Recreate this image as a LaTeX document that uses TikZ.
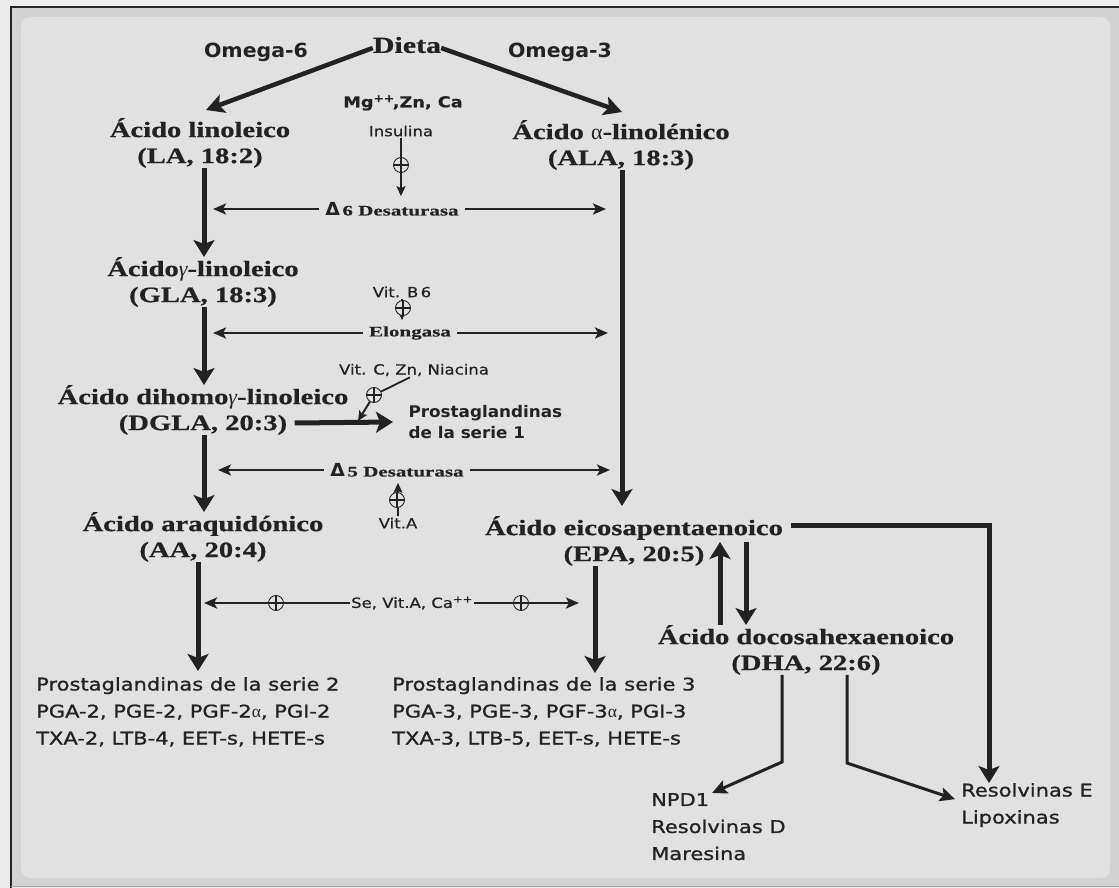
\documentclass[tikz,border=0pt]{standalone}
\usepackage{fontspec}
\setmainfont{Liberation Serif}
\setsansfont{DejaVu Sans}
\newfontfamily\acidfont[FakeStretch=1.3,FakeBold=0.7]{Liberation Serif}
\newfontfamily\enzfont[FakeStretch=1.45,FakeBold=0.5]{Liberation Serif}
\newfontfamily\labfont[FakeStretch=1.18,FakeBold=0.6]{DejaVu Sans}
\newfontfamily\prodfont[FakeStretch=1.2,FakeBold=1.1]{DejaVu Sans}
\newfontfamily\headfont[FakeStretch=1.05]{DejaVu Sans}
\usetikzlibrary{arrows.meta}
\definecolor{ink}{HTML}{222222}
\definecolor{outbg}{HTML}{EBEBEB}
\definecolor{band}{HTML}{D3D3D3}
\definecolor{panel}{HTML}{E1E1E1}

\begin{document}
\begin{tikzpicture}[x=1pt,y=-1pt,
		acid/.style={font=\acidfont\bfseries\fontsize{22}{26}\selectfont, align=center, text=ink, inner sep=0pt},
		enzyme/.style={font=\enzfont\bfseries\fontsize{14.5}{16}\selectfont, text=ink, inner sep=6pt},
		cofactor/.style={font=\labfont\fontsize{14}{15}\selectfont, text=ink, inner sep=1pt},
		omega/.style={font=\headfont\bfseries\fontsize{19.5}{21}\selectfont, text=ink},
		product/.style={font=\prodfont\fontsize{17.5}{27}\selectfont, align=left, text=ink, inner sep=0pt},
		headarrow/.style={draw=ink, line width=4.5pt, -{Stealth[length=18pt,width=19pt,inset=4pt]}},
		mainarrow/.style={draw=ink, line width=5pt, -{Stealth[length=17pt,width=21pt,inset=4pt]}},
		enzarrow/.style={draw=ink, line width=2.6pt, -{Stealth[length=13pt,width=11pt,inset=3pt]}},
		cofarrow/.style={draw=ink, line width=2pt, -{Stealth[length=10pt,width=9pt,inset=2pt]}},
		branch/.style={draw=ink, line width=3pt, -{Stealth[length=15pt,width=14pt,inset=3pt]}},
		plus/.style={circle, draw=ink, line width=0.9pt, fill=panel, minimum size=15pt, inner sep=0pt,
				path picture={\draw[ink, line width=2.8pt]
						(path picture bounding box.north) -- (path picture bounding box.south)
						(path picture bounding box.west) -- (path picture bounding box.east);}}
	]
	\useasboundingbox (0,0) rectangle (1119,888);

	% frame
	\fill[outbg] (0,0) rectangle (1119,888);
	\fill[band] (11,7) rectangle (1119,886);
	\fill[panel, rounded corners=9pt] (21,17) rectangle (1110,878);
	\draw[black!85, line width=1.3pt] (1119,7) -- (11,7) -- (11,888);
	\draw[black!35, line width=1pt] (11,886) -- (1119,886);

	% columns
	\coordinate (colL) at (204,0);
	\coordinate (colR) at (622,0);
	\coordinate (colAA) at (198,0);
	\coordinate (colE) at (595,0);
	\coordinate (colU) at (720,0);
	\coordinate (colD) at (746,0);

	% acids
	\node[acid, font=\acidfont\bfseries\fontsize{23}{26}\selectfont] (dieta) at (407,45) {Dieta};
	\node[omega] (om6) at (256,52) {Omega-6};
	\node[omega] (om3) at (560,52) {Omega-3};
	\node[acid] (la) at (200,143) {Ácido linoleico\\(LA, 18:2)};
	\node[acid] (ala) at (621,145) {Ácido {\normalfont α}-linolénico\\(ALA, 18:3)};
	\node[acid] (gla) at (203,282) {Ácido{\normalfont\itshape γ}-linoleico\\(GLA, 18:3)};
	\node[acid] (dgla) at (203,410) {Ácido dihomo{\normalfont\itshape γ}-linoleico\\(DGLA, 20:3)};
	\node[acid] (aa) at (203,537) {Ácido araquidónico\\(AA, 20:4)};
	\node[acid] (epa) at (634,541) {Ácido eicosapentaenoico\\(EPA, 20:5)};
	\node[acid] (dha) at (806,650) {Ácido docosahexaenoico\\(DHA, 22:6)};

	% enzymes and cofactors
	\node[cofactor, font=\labfont\bfseries\fontsize{15}{17}\selectfont] (mg) at (403,103) {Mg\textsuperscript{++}\hspace{-2pt},Zn, Ca};
	\node[cofactor] (ins) at (401,131) {Insulina};
	\node[enzyme] (d6) at (392,209) {{\headfont\bfseries\fontsize{18}{18}\selectfont Δ}\,6 Desaturasa};
	\node[cofactor] (b6) at (402,292) {Vit. B\,6};
	\node[enzyme] (elo) at (410,333) {Elongasa};
	\node[cofactor] (vitc) at (414,370) {Vit. C, Zn, Niacina};
	\node[enzyme] (d5) at (397,470) {{\headfont\bfseries\fontsize{18}{18}\selectfont Δ}\,5 Desaturasa};
	\node[cofactor] (vita) at (398,523) {Vit.A};
	\node[cofactor] (se) at (412,603) {Se, Vit.A, Ca\textsuperscript{++}};

	% products
	\node[omega, font=\headfont\bfseries\fontsize{16}{21}\selectfont, align=left, anchor=west] (pg1) at (405,422) {Prostaglandinas\\de la serie 1};
	\node[product, anchor=north west] (pg2) at (36,677) {Prostaglandinas de la serie 2\\PGA-2, PGE-2, PGF-2{\normalfont α}, PGI-2\\TXA-2, LTB-4, EET-s, HETE-s};
	\node[product, anchor=north west] (pg3) at (392,677) {Prostaglandinas de la serie 3\\PGA-3, PGE-3, PGF-3{\normalfont α}, PGI-3\\TXA-3, LTB-5, EET-s, HETE-s};
	\node[product, anchor=north west] (npd) at (651,793) {NPD1\\Resolvinas D\\Maresina};
	\node[product, anchor=north west] (rese) at (961,783) {Resolvinas E\\Lipoxinas};

	% diet
	\draw[headarrow] ([yshift=-3pt]dieta.west) -- ([xshift=6pt,yshift=8pt]la.north);
	\draw[headarrow] ([yshift=-3pt]dieta.east) -- ([yshift=8pt]ala.north -| colR);

	% omega-6 chain
	\draw[mainarrow] (la.south -| colL) -- (gla.north -| colL);
	\draw[mainarrow] (gla.south -| colL) -- (dgla.north -| colL);
	\draw[mainarrow] (dgla.south -| colL) -- (aa.north -| colL);
	\draw[mainarrow] (aa.south -| colAA) -- ([yshift=6pt]pg2.north -| colAA);
	\draw[mainarrow] ([xshift=-54pt,yshift=-13pt]dgla.east) -- ([xshift=-12pt]pg1.west);

	% omega-3 chain
	\draw[mainarrow] (ala.south -| colR) -- ([yshift=10pt]epa.north -| colR);
	\draw[mainarrow] (epa.south -| colE) -- ([yshift=4pt]pg3.north -| colE);
	\draw[mainarrow] (dha.north -| colU) -- ([yshift=24pt]epa.south -| colU);
	\draw[mainarrow] ([yshift=24pt]epa.south -| colD) -- (dha.north -| colD);
	\draw[mainarrow] ([xshift=8pt,yshift=16pt]epa.east) -| ([xshift=28pt]rese.north west);

	% DHA products
	\coordinate (kinkL) at (782,762);
	\coordinate (kinkR) at (847,763);
	\draw[branch] (dha.south -| kinkL) -- (kinkL) -- ([xshift=61pt]npd.north west);
	\draw[branch] (dha.south -| kinkR) -- (kinkR) -- ([xshift=-6pt,yshift=6pt]rese.west);

	% enzyme arrows
	\draw[enzarrow] (d6.west) -- ([xshift=9pt]d6.west -| colL);
	\draw[enzarrow] (d6.east) -- ([xshift=-16pt]d6.east -| colR);
	\draw[enzarrow] (elo.west) -- ([xshift=9pt]elo.west -| colL);
	\draw[enzarrow] (elo.east) -- ([xshift=-14pt]elo.east -| colR);
	\draw[enzarrow] (d5.west) -- ([xshift=14pt]d5.west -| colL);
	\draw[enzarrow] (d5.east) -- ([xshift=-12pt]d5.east -| colR);
	\draw[enzarrow] (se.west) -- ([xshift=6pt]se.west -| colAA);
	\draw[enzarrow] (se.east) -- ([xshift=-16pt]se.east -| colE);

	% cofactors
	\draw[cofarrow] (ins.south) -- (d6.north -| ins.south);
	\draw[cofarrow] (b6.south) -- (elo.north -| b6.south);
	\draw[cofarrow] (vita.north) -- (d5.south -| vita.north);
	\node[plus] (p1) at (401,165) {};
	\node[plus] (p2) at (403,308) {};
	\node[plus] (p4) at (397,500) {};
	\node[plus] (p5) at (276,603) {};
	\node[plus] (p6) at (521,603) {};
	\node[plus] (p3) at (374,395) {};
	\coordinate (vcland) at (358,421);
	\draw[ink, line width=1.8pt] ([xshift=-4pt]vitc.south) -- (p3);
	\draw[cofarrow] (p3) -- (vcland);
\end{tikzpicture}
\end{document}
